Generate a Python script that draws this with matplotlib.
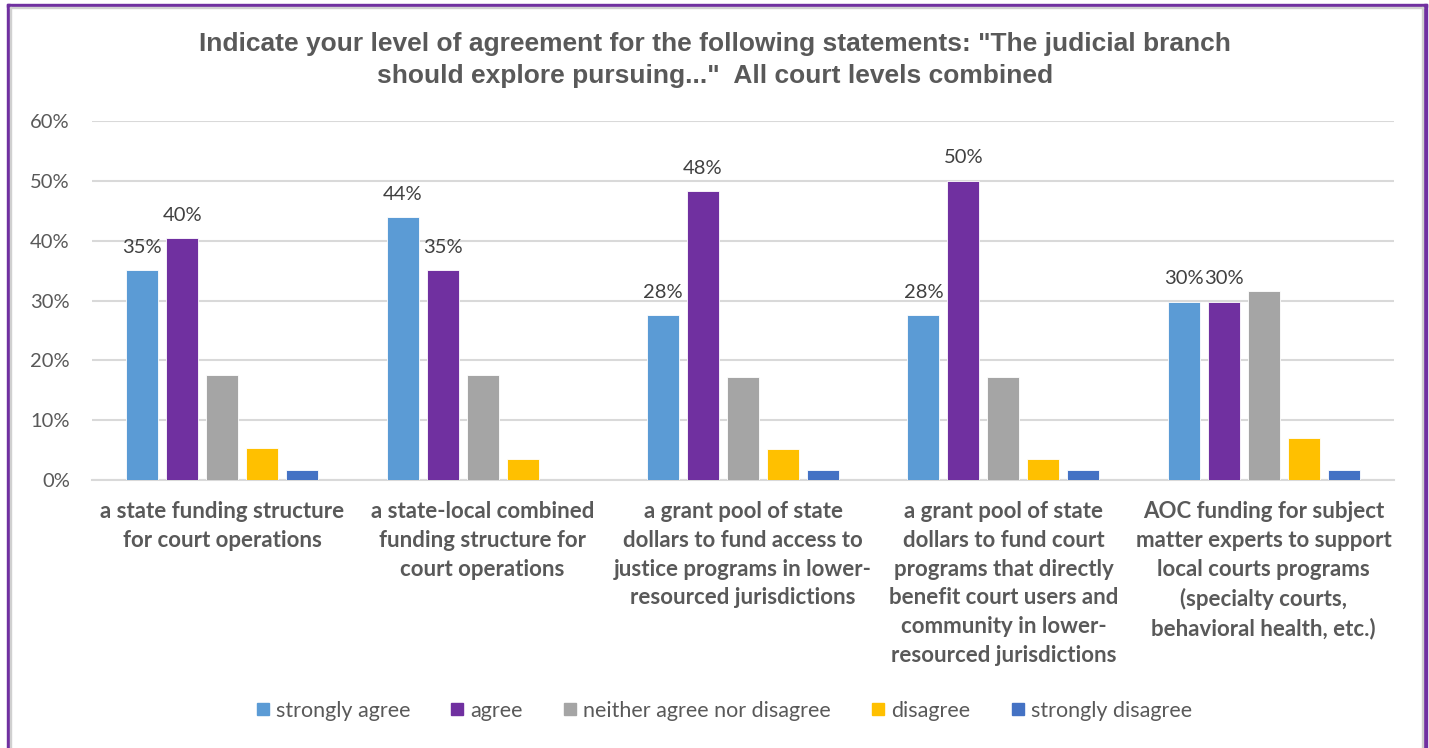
import matplotlib
matplotlib.use("Agg")
import matplotlib.pyplot as plt
import numpy as np
from matplotlib.patches import Rectangle
from matplotlib.lines import Line2D

categories = [
    "a state funding structure\nfor court operations",
    "a state-local combined\nfunding structure for\ncourt operations",
    "a grant pool of state\ndollars to fund access to\njustice programs in lower-\nresourced jurisdictions",
    "a grant pool of state\ndollars to fund court\nprograms that directly\nbenefit court users and\ncommunity in lower-\nresourced jurisdictions",
    "AOC funding for subject\nmatter experts to support\nlocal courts programs\n(specialty courts,\nbehavioral health, etc.)",
]
series_names = ["strongly agree", "agree", "neither agree nor disagree", "disagree", "strongly disagree"]
strongly_agree = [35.1, 43.9, 27.6, 27.6, 29.8]
agree = [40.4, 35.1, 48.3, 50.0, 29.8]
neither = [17.5, 17.5, 17.2, 17.2, 31.6]
disagree = [5.3, 3.5, 5.2, 3.5, 7.0]
strongly_disagree = [1.75, 0.0, 1.7, 1.7, 1.75]
yticks = [0, 10, 20, 30, 40, 50, 60]
title = 'Indicate your level of agreement for the following statements: "The judicial branch\nshould explore pursuing..."  All court levels combined'

colors = ["#5B9BD5", "#7030A0", "#A5A5A5", "#FFC000", "#4472C4"]
series = [strongly_agree, agree, neither, disagree, strongly_disagree]
labelled = [True, True, False, False, False]

W, H = 1429, 748
fig = plt.figure(figsize=(W / 100, H / 100), dpi=100)
fig.patch.set_facecolor("white")

ax = fig.add_axes([92 / W, (H - 480) / H, (1394 - 92) / W, (480 - 121) / H])
x = np.arange(len(categories))
pitch = 40 / 260.4
width = 32 / 260.4
TXT = "#595959"
FONT = "Lato"

for i, (vals, c, lab) in enumerate(zip(series, colors, labelled)):
    pos = x + (i - 2) * pitch
    bars = ax.bar(pos, vals, width=width, color=c, edgecolor="white", linewidth=0.6,
                  label=series_names[i], zorder=3)
    if lab:
        for b, v in zip(bars, vals):
            ax.text(b.get_x() + b.get_width() / 2, v + 2.4, f"{v:.0f}%",
                    ha="center", va="bottom", fontsize=14.5, color="#404040",
                    family=FONT, zorder=4)

ax.set_xlim(-0.5, len(categories) - 0.5)
ax.set_ylim(0, 60)
ax.set_yticks(yticks)
ax.set_yticklabels([f"{t}%" for t in yticks], fontsize=14.5, color=TXT, family=FONT)
ax.tick_params(axis="y", length=0, pad=16)
ax.tick_params(axis="x", length=0)
ax.yaxis.grid(True, color="#D9D9D9", linewidth=1.5, zorder=0)
ax.set_axisbelow(True)
for s in ["top", "right", "left"]:
    ax.spines[s].set_visible(False)
ax.spines["bottom"].set_color("#D9D9D9")
ax.spines["bottom"].set_linewidth(1.5)
ax.set_xticks([])

for xi, cat in zip(x, categories):
    ax.text(xi, -3.5, cat, ha="center", va="top", fontsize=16, fontweight="bold",
            color=TXT, family=FONT, linespacing=1.46,
            transform=ax.transData)

fig.text(715 / W, (H - 60) / H, title, ha="center", va="center", fontsize=19,
         fontweight="bold", color=TXT, family="Liberation Sans", linespacing=1.38)

handles = [Line2D([0], [0], marker="s", linestyle="none", markersize=9,
                  markerfacecolor=c, markeredgecolor=c) for c in colors]
fig.legend(handles, series_names, loc="center", bbox_to_anchor=(724 / W, (H - 711) / H),
           ncol=5, frameon=False, handlelength=0.6, handletextpad=0.3,
           columnspacing=1.9, prop={"family": FONT, "size": 15.5},
           labelcolor=TXT)

# border
purple = "#7030A0"
fig.add_artist(Rectangle((7 / W, 0), 3 / W, (H - 4) / H, transform=fig.transFigure,
                         color=purple, zorder=10))
fig.add_artist(Rectangle((7 / W, (H - 7) / H), (1427 - 7) / W, 3 / H,
                         transform=fig.transFigure, color=purple, zorder=10))
fig.add_artist(Rectangle((1424 / W, 0), 3 / W, (H - 4) / H, transform=fig.transFigure,
                         color=purple, zorder=10))
fig.add_artist(Rectangle((10 / W, 0), 1 / W, (H - 7) / H, transform=fig.transFigure,
                         color="#D0D0D0", zorder=10))
fig.add_artist(Rectangle((10 / W, (H - 8) / H), (1423 - 10) / W, 1 / H,
                         transform=fig.transFigure, color="#D0D0D0", zorder=10))
fig.add_artist(Rectangle((1422 / W, 0), 1 / W, (H - 7) / H, transform=fig.transFigure,
                         color="#D0D0D0", zorder=10))

fig.savefig("out.png", dpi=100)
